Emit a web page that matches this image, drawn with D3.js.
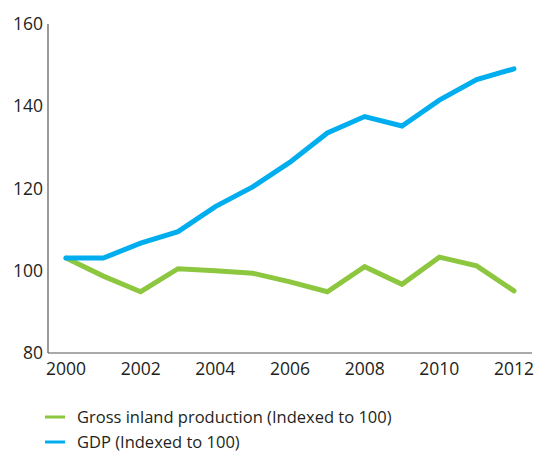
<html>
<head>
  <script src="https://d3js.org/d3.v7.min.js"></script>
  <style>
    body { margin: 0; background: #fff; }
    text { font-family: "Open Sans", "Noto Sans", sans-serif; fill: #231f20; }
  </style>
</head>
<body>
<svg id="chart" width="550" height="452"></svg>
<script>
  const years = [2000, 2001, 2002, 2003, 2004, 2005, 2006, 2007, 2008, 2009, 2010, 2011, 2012];
  const grossInland = [103.1, 98.7, 94.9, 100.5, 100.0, 99.4, 97.3, 94.9, 101.0, 96.7, 103.3, 101.2, 95.1];
  const gdp = [103.1, 103.1, 106.7, 109.5, 115.6, 120.4, 126.4, 133.5, 137.5, 135.2, 141.5, 146.5, 149.1];
  const yTicks = [80, 100, 120, 140, 160];
  const xTicks = [2000, 2002, 2004, 2006, 2008, 2010, 2012];
  const seriesNames = ["Gross inland production (Indexed to 100)", "GDP (Indexed to 100)"];
  const colors = ["#8dc63f", "#00aeef"];

  const svg = d3.select("#chart");

  const x = d3.scaleLinear().domain([2000, 2012]).range([66, 514]);
  const y = d3.scaleLinear().domain([80, 160]).range([353, 24]);

  // axes lines
  svg.append("line")
    .attr("x1", 48).attr("x2", 48).attr("y1", 24).attr("y2", 353)
    .attr("stroke", "#555").attr("stroke-width", 1.2);
  svg.append("line")
    .attr("x1", 48).attr("x2", 532).attr("y1", 353).attr("y2", 353)
    .attr("stroke", "#555").attr("stroke-width", 1.2);

  svg.selectAll(".ylab").data(yTicks)
    .join("text")
    .attr("class", "ylab")
    .attr("x", 43)
    .attr("y", d => y(d))
    .attr("dy", "0.35em")
    .attr("text-anchor", "end")
    .style("font-size", "17.5px")
    .text(d => d);

  svg.selectAll(".xlab").data(xTicks)
    .join("text")
    .attr("class", "xlab")
    .attr("x", d => x(d))
    .attr("y", 369)
    .attr("dy", "0.35em")
    .attr("text-anchor", "middle")
    .style("font-size", "17.5px")
    .text(d => d);

  const line = d3.line()
    .x((d, i) => x(years[i]))
    .y(d => y(d));

  [grossInland, gdp].forEach((s, i) => {
    svg.append("path")
      .datum(s)
      .attr("fill", "none")
      .attr("stroke", colors[i])
      .attr("stroke-width", 5)
      .attr("stroke-linejoin", "miter")
      .attr("stroke-linecap", "round")
      .attr("d", line);
  });

  // legend
  const legend = svg.selectAll(".legend").data(seriesNames)
    .join("g")
    .attr("class", "legend")
    .attr("transform", (d, i) => "translate(45," + (417 + i * 25) + ")");

  legend.append("line")
    .attr("x1", 0).attr("x2", 20)
    .attr("stroke", (d, i) => colors[i])
    .attr("stroke-width", 3);

  legend.append("text")
    .attr("x", 32)
    .attr("dy", "0.35em")
    .style("font-size", "16.5px")
    .text(d => d);
</script>
</body>
</html>
